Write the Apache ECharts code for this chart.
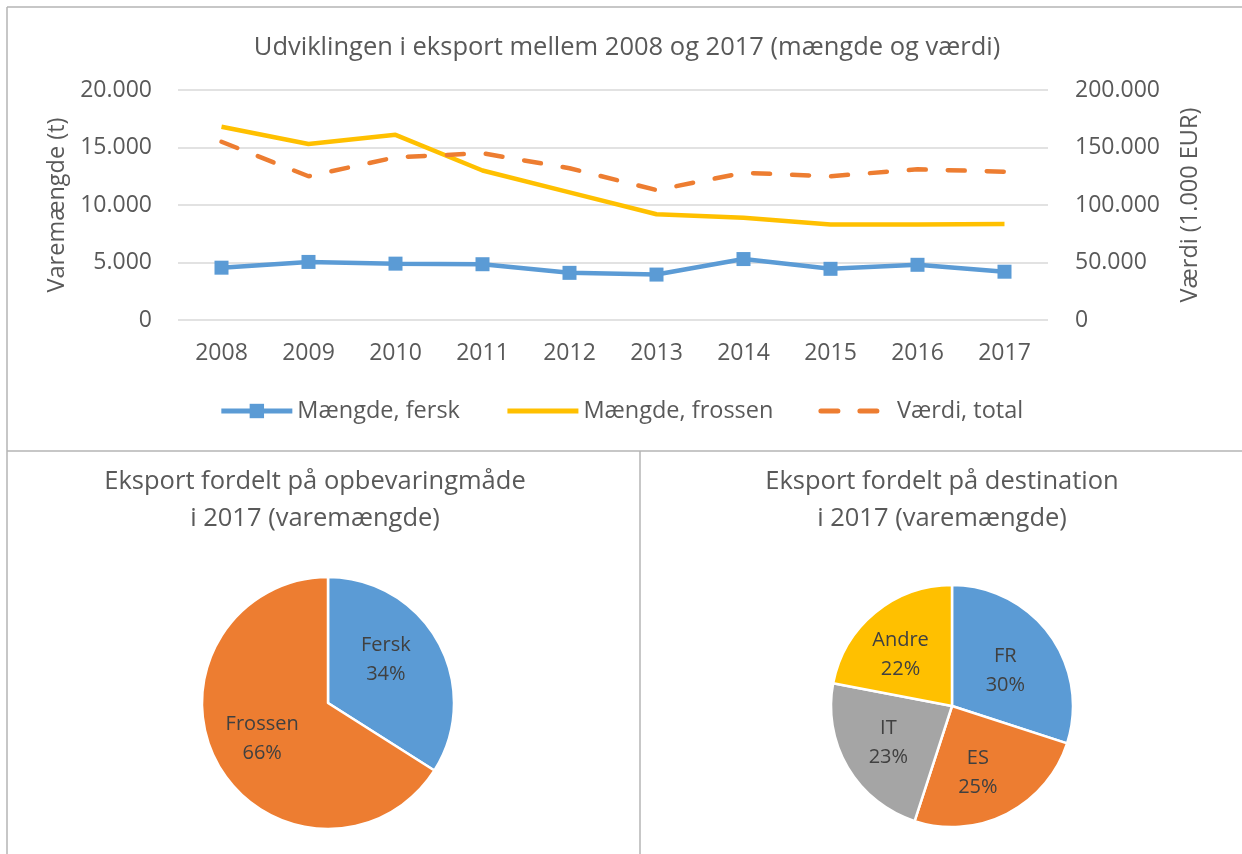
<html style="height: 100%">
<head>
	<meta charset="utf-8">
	<script type="text/javascript" src="https://cdn.jsdelivr.net/npm/echarts@6/dist/echarts.min.js"></script>
</head>

<body style="height: 100%; margin: 0; background: #fff">
	<div id="container" style="height:854px;width:1242px"></div>
</body>

<script type="text/javascript">
	var dom = document.getElementById("container");
	var myChart = echarts.init(dom);

	// data
	let years = ['2008', '2009', '2010', '2011', '2012', '2013', '2014', '2015', '2016', '2017'];
	let fersk = [4550, 5050, 4900, 4850, 4100, 3950, 5300, 4450, 4800, 4200];
	let frossen = [16800, 15300, 16100, 13000, 11100, 9200, 8900, 8300, 8300, 8350];
	let vaerdi = [155000, 125000, 141500, 145000, 132000, 113000, 128000, 125000, 131000, 129000];

	let opbevNames = ['Fersk', 'Frossen'];
	let opbevValues = [34, 66];
	let destNames = ['FR', 'ES', 'IT', 'Andre'];
	let destValues = [30, 25, 23, 22];

	const FONT = 'Open Sans';
	const TXT = '#595959';
	const BORDER = '#b4b4b4';

	// 20.000 style numbers
	function fmt(v) {
		return String(v).replace(/\B(?=(\d{3})+(?!\d))/g, '.');
	}

	function pieLabel() {
		return {
			show: true,
			position: 'inner',
			formatter: '{b}\n{d}%',
			fontFamily: FONT,
			fontSize: 20,
			lineHeight: 29,
			color: '#404040'
		};
	}

	// nudge labels a bit towards where Excel puts them
	let labelNudge = { 'Fersk': [0, -11], 'Frossen': [-8, 4], 'FR': [2, 2], 'ES': [-3, 10], 'IT': [-9, 4], 'Andre': [-11, -2] };

	function pieData(names, values) {
		return names.map((n, i) => ({ name: n, value: values[i], label: { offset: labelNudge[n] } }));
	}

	var titleStyle = { fontFamily: FONT, fontSize: 25.5, fontWeight: 'normal', color: TXT, lineHeight: 37 };

	var option = {
		animation: false,
		textStyle: { fontFamily: FONT },
		title: [
			{
				text: 'Udviklingen i eksport mellem 2008 og 2017 (mængde og værdi)',
				left: 622, top: 24, textAlign: 'center',
				textStyle: titleStyle
			},
			{
				text: 'Eksport fordelt på opbevaringmåde\ni 2017 (varemængde)',
				left: 310, top: 458, textAlign: 'center',
				textStyle: titleStyle
			},
			{
				text: 'Eksport fordelt på destination\ni 2017 (varemængde)',
				left: 937, top: 458, textAlign: 'center',
				textStyle: titleStyle
			}
		],
		legend: {
			top: 394,
			left: 'center',
			itemWidth: 71,
			itemHeight: 18,
			itemGap: 45,
			textStyle: { fontFamily: FONT, fontSize: 23.5, color: TXT },
			data: [
				{ name: 'Mængde, fersk', lineStyle: { width: 5 } },
				{ name: 'Mængde, frossen', itemStyle: { opacity: 0 }, lineStyle: { width: 5 } },
				{ name: 'Værdi, total', itemStyle: { opacity: 0 }, lineStyle: { width: 5 } }
			]
		},
		grid: { left: 178, right: 194, top: 90, height: 230 },
		xAxis: {
			type: 'category',
			data: years,
			axisLine: { show: false },
			axisTick: { show: false },
			axisLabel: { fontFamily: FONT, fontSize: 23, color: TXT, margin: 22 }
		},
		yAxis: [
			{
				type: 'value',
				min: 0, max: 20000, interval: 5000,
				name: 'Varemængde (t)',
				nameLocation: 'middle',
				nameGap: 104,
				nameRotate: 90,
				nameTextStyle: { fontFamily: FONT, fontSize: 23.5, color: TXT },
				axisLabel: { fontFamily: FONT, fontSize: 23, color: TXT, margin: 26, formatter: fmt },
				splitLine: { lineStyle: { color: '#d9d9d9', width: 1.5 } }
			},
			{
				type: 'value',
				min: 0, max: 200000, interval: 50000,
				name: 'Værdi (1.000 EUR)',
				nameLocation: 'middle',
				nameGap: 130,
				nameRotate: 90,
				nameTextStyle: { fontFamily: FONT, fontSize: 23.5, color: TXT },
				axisLabel: { fontFamily: FONT, fontSize: 23, color: TXT, margin: 27, formatter: fmt },
				splitLine: { show: false }
			}
		],
		series: [
			{
				name: 'Mængde, fersk',
				type: 'line',
				data: fersk,
				symbol: 'rect',
				symbolSize: 14,
				color: '#5b9bd5',
				lineStyle: { width: 4.5 }
			},
			{
				name: 'Mængde, frossen',
				type: 'line',
				data: frossen,
				symbol: 'none',
				color: '#ffc000',
				lineStyle: { width: 4.5 }
			},
			{
				name: 'Værdi, total',
				type: 'line',
				yAxisIndex: 1,
				data: vaerdi,
				symbol: 'none',
				color: '#ed7d31',
				lineStyle: { width: 4.5, type: [17, 22], cap: 'round' }
			},
			{
				name: 'opbevaring',
				type: 'pie',
				center: [328, 703],
				radius: 126,
				startAngle: 90,
				clockwise: true,
				label: pieLabel(),
				labelLine: { show: false },
				itemStyle: { borderColor: '#fff', borderWidth: 2.5 },
				data: pieData(opbevNames, opbevValues),
				color: ['#5b9bd5', '#ed7d31']
			},
			{
				name: 'destination',
				type: 'pie',
				center: [952, 706],
				radius: 121,
				startAngle: 90,
				clockwise: true,
				label: pieLabel(),
				labelLine: { show: false },
				itemStyle: { borderColor: '#fff', borderWidth: 2.5 },
				data: pieData(destNames, destValues),
				color: ['#5b9bd5', '#ed7d31', '#a5a5a5', '#ffc000']
			}
		],
		graphic: [
			// panel borders
			{ type: 'line', shape: { x1: 7, y1: 7, x2: 1242, y2: 7 }, style: { stroke: BORDER, lineWidth: 1.5 } },
			{ type: 'line', shape: { x1: 7, y1: 7, x2: 7, y2: 854 }, style: { stroke: BORDER, lineWidth: 1.5 } },
			{ type: 'line', shape: { x1: 7, y1: 451, x2: 1242, y2: 451 }, style: { stroke: BORDER, lineWidth: 1.5 } },
			{ type: 'line', shape: { x1: 640, y1: 451, x2: 640, y2: 854 }, style: { stroke: BORDER, lineWidth: 1.5 } }
		]
	};

	myChart.setOption(option);
</script>

</html>
